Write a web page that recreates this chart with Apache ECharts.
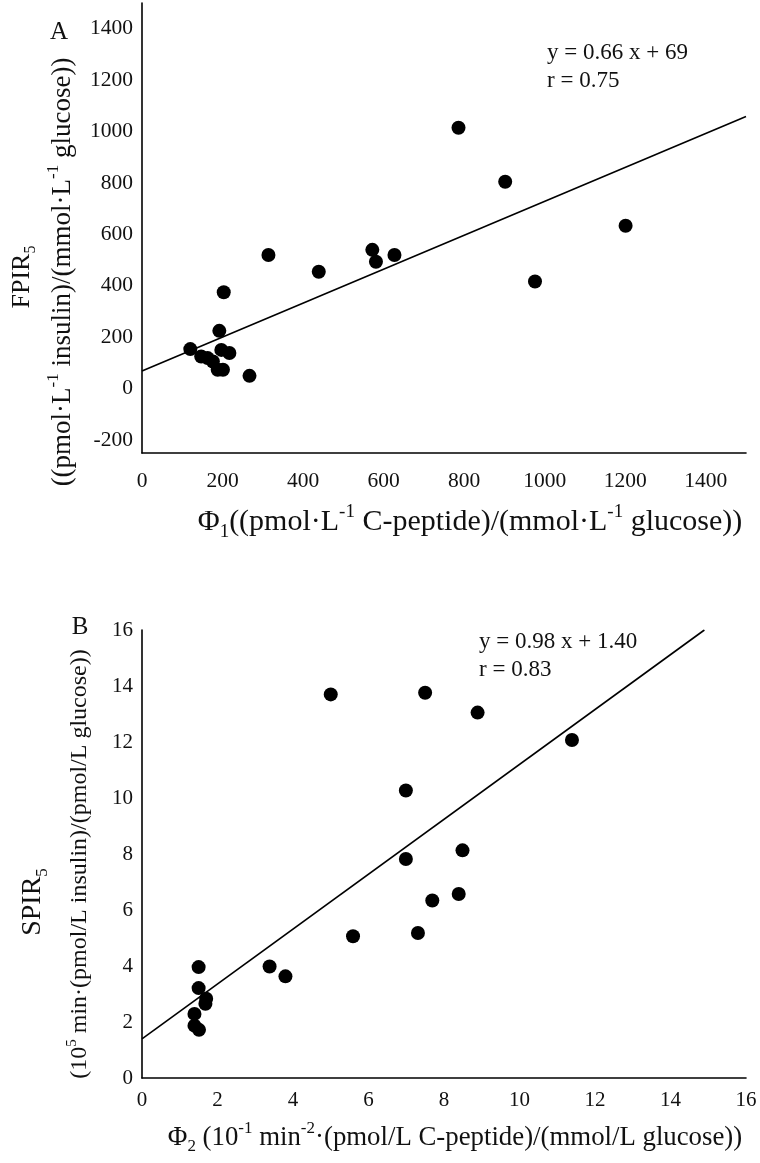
<!DOCTYPE html>
<html><head><meta charset="utf-8">
<script src="https://cdn.jsdelivr.net/npm/echarts@6/dist/echarts.min.js"></script>
<style>html,body{margin:0;padding:0;background:#fff}#c{width:760px;height:1163px}</style>
</head><body><div id="c"></div>
<script>
// Panel A data
const aPhi1 = [786, 902, 1201, 976, 572, 581, 627, 439, 314, 203, 192, 120, 147, 163, 176, 197, 217, 188, 201, 267];
const aFPIR5 = [1015, 805, 634, 417, 540, 494, 520, 455, 520, 375, 225, 154, 125, 119, 106, 151, 139, 74, 74, 50];
const aXTicks = [0, 200, 400, 600, 800, 1000, 1200, 1400];
const aYTicks = [-200, 0, 200, 400, 600, 800, 1000, 1200, 1400];
const aFit = { slope: 0.66, intercept: 69 };
const aEq = ['y = 0.66 x + 69', 'r = 0.75'];

// Panel B data
const bPhi2 = [5.0, 7.50, 8.89, 11.39, 6.99, 6.99, 8.49, 8.39, 7.69, 7.31, 5.59, 3.38, 3.80, 1.50, 1.50, 1.70, 1.68, 1.39, 1.39, 1.51];
const bSPIR5 = [13.70, 13.76, 13.05, 12.07, 10.27, 7.82, 8.13, 6.57, 6.34, 5.18, 5.06, 3.98, 3.63, 3.96, 3.21, 2.83, 2.65, 2.29, 1.87, 1.72];
const bTicks = [0, 2, 4, 6, 8, 10, 12, 14, 16];
const bFit = { slope: 0.98, intercept: 1.40 };
const bEq = ['y = 0.98 x + 1.40', 'r = 0.83'];

const FF = '"Liberation Serif", "Times New Roman", serif';
const TXT = '#111';
const ax = { min: 0, max: 1500 };
const ayr = { min: -250, max: 1500 };
const bxr = { min: 0, max: 16 };
const byr = { min: 0, max: 16 };

function zip(xs, ys) { return xs.map((x, i) => [x, ys[i]]); }
function fitLine(f, x0, x1, yMax) {
  let xe = x1;
  if (f.slope * x1 + f.intercept > yMax) xe = (yMax - f.intercept) / f.slope;
  return [[x0, f.slope * x0 + f.intercept], [xe, f.slope * xe + f.intercept]];
}

function valueAxis(grid, range, ticks, margin, size) {
  return {
    type: 'value', gridIndex: grid, min: range.min, max: range.max,
    axisLine: { show: true, onZero: false, lineStyle: { color: '#000', width: 1.6 } },
    axisTick: { show: false },
    splitLine: { show: false },
    axisLabel: {
      customValues: ticks, fontFamily: FF, fontSize: size, color: TXT,
      margin: margin, formatter: v => String(v)
    }
  };
}

function richFor(size) {
  const lh = Math.round(size * 1.3);
  const small = Math.round(size * 0.62);
  return {
    b: { fontFamily: FF, fontSize: size, fill: TXT, verticalAlign: 'middle', lineHeight: lh },
    sub: { fontFamily: FF, fontSize: small, fill: TXT, verticalAlign: 'bottom', lineHeight: lh },
    sup: { fontFamily: FF, fontSize: small, fill: TXT, verticalAlign: 'top', lineHeight: lh }
  };
}
function rtext(x, y, text, size, rot) {
  return {
    type: 'text', x: x, y: y, rotation: rot || 0,
    style: { text: text, rich: richFor(size), fontFamily: FF, fontSize: size, fill: TXT, align: 'center', verticalAlign: 'middle' }
  };
}
function ptext(x, y, text, size, align) {
  return {
    type: 'text', x: x, y: y,
    style: { text: text, fontFamily: FF, fontSize: size, fill: TXT, align: align || 'left', verticalAlign: 'middle' }
  };
}

const chart = echarts.init(document.getElementById('c'), null, { renderer: 'canvas' });
chart.setOption({
  backgroundColor: '#fff',
  animation: false,
  grid: [
    { left: 142, top: 3, width: 604, height: 450 },
    { left: 142, top: 630, width: 604, height: 448 }
  ],
  xAxis: [valueAxis(0, ax, aXTicks, 17, 21.5), valueAxis(1, bxr, bTicks, 12, 21)],
  yAxis: [valueAxis(0, ayr, aYTicks, 9, 21.5), valueAxis(1, byr, bTicks, 9, 21)],
  series: [
    { type: 'line', xAxisIndex: 0, yAxisIndex: 0, data: fitLine(aFit, ax.min, ax.max, ayr.max),
      symbol: 'none', lineStyle: { color: '#000', width: 1.6 }, z: 2 },
    { type: 'scatter', xAxisIndex: 0, yAxisIndex: 0, data: zip(aPhi1, aFPIR5),
      symbolSize: 14, itemStyle: { color: '#000', opacity: 1 }, z: 3 },
    { type: 'line', xAxisIndex: 1, yAxisIndex: 1, data: fitLine(bFit, bxr.min, bxr.max, byr.max),
      symbol: 'none', lineStyle: { color: '#000', width: 1.6 }, z: 2 },
    { type: 'scatter', xAxisIndex: 1, yAxisIndex: 1, data: zip(bPhi2, bSPIR5),
      symbolSize: 14, itemStyle: { color: '#000', opacity: 1 }, z: 3 }
  ],
  graphic: [
    ptext(59, 32, 'A', 25, 'center'),
    ptext(80, 627, 'B', 25, 'center'),
    ptext(547, 53, aEq[0], 23),
    ptext(547, 81, aEq[1], 23),
    ptext(479, 642, bEq[0], 23),
    ptext(479, 670, bEq[1], 23),
    rtext(22, 277, '{b|FPIR}{sub|5}', 26, Math.PI / 2),
    rtext(63, 272, '{b|((pmol·L}{sup|-1}{b| insulin)/(mmol·L}{sup|-1}{b| glucose))}', 27, Math.PI / 2),
    rtext(470, 522, '{b|Φ}{sub|1}{b|((pmol·L}{sup|-1}{b| C-peptide)/(mmol·L}{sup|-1}{b| glucose))}', 30, 0),
    rtext(33, 902, '{b|SPIR}{sub|5}', 28, Math.PI / 2),
    rtext(80, 864, '{b|(10}{sup|5}{b| min·(pmol/L insulin)/(pmol/L glucose))}', 24, Math.PI / 2),
    rtext(455, 1138, '{b|Φ}{sub|2}{b| (10}{sup|-1}{b| min}{sup|-2}{b|·(pmol/L C-peptide)/(mmol/L glucose))}', 26.8, 0)
  ]
});
</script>
</body></html>
